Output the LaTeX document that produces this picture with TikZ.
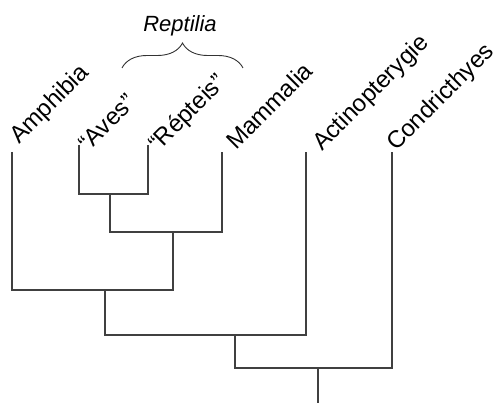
\documentclass[tikz,border=0pt]{standalone}
\usepackage{fontspec}
\setmainfont{Liberation Sans}
\usetikzlibrary{decorations.pathreplacing}

\tikzset{
  branch/.style={line width=1.1pt, black!75},
  taxon/.style={anchor=base west, rotate=45, inner sep=0pt, font=\fontsize{24}{28}\selectfont},
}

\begin{document}
\begin{tikzpicture}[x=1pt, y=1pt]
    \useasboundingbox (0,0) rectangle (499,403);
    % tips
    \coordinate (amph) at (12,251);
    \coordinate (aves) at (79,258);
    \coordinate (rept) at (148,258);
    \coordinate (mamm) at (222,251);
    \coordinate (acti) at (306,251);
    \coordinate (cond) at (392,251);
    % joints
    \coordinate (j1) at (110,209);
    \coordinate (j2) at (173,171);
    \coordinate (j3) at (105,113);
    \coordinate (j4) at (235,68);
    \coordinate (j5) at (318,35);
    \coordinate (root) at (318,0);

    \draw[branch] (aves) |- (j1) -| (rept);
    \draw[branch] (j1) |- (j2) -| (mamm);
    \draw[branch] (amph) |- (j3) -| (j2);
    \draw[branch] (j3) |- (j4) -| (acti);
    \draw[branch] (j4) |- (j5) -| (cond);
    \draw[branch] (j5) -- (root);

    \node[taxon] (tamph) at ([shift={(7,7)}]amph) {Amphibia};
    \node[taxon] (taves) at ([shift={(9,-8)}]aves) {“Aves”};
    \node[taxon] (trept) at ([shift={(10,-8)}]rept) {“Répteis”};
    \node[taxon] (tmamm) at ([shift={(14,1)}]mamm) {Mammalia};
    \node[taxon] (tacti) at ([shift={(16,0)}]acti) {Actinopterygie};
    \node[taxon] (tcond) at ([shift={(4,0)}]cond) {Condricthyes};

    % Reptilia brace
    \coordinate (bl) at (122,335);
    \coordinate (br) at (243,335);
    \draw[line width=0.9pt, black!80, decorate, decoration={brace, amplitude=25pt}] (bl) -- (br);
    \node[anchor=base, inner sep=0pt, font=\fontsize{22}{26}\selectfont\itshape] (reptilia) at (180,371) {Reptilia};
\end{tikzpicture}
\end{document}
